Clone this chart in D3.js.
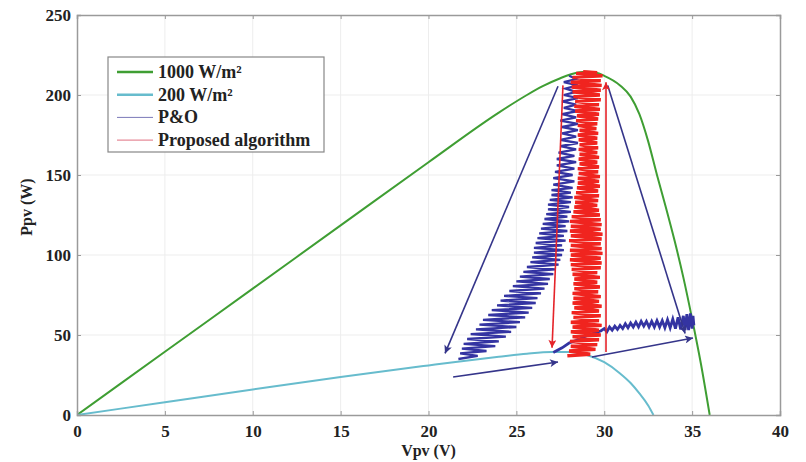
<!DOCTYPE html>
<html>
<head>
<meta charset="utf-8">
<script src="https://cdn.jsdelivr.net/npm/d3@7"></script>
<style>
  body { margin: 0; background: #fff; }
  text { font-family: "Liberation Serif", "Times New Roman", serif; font-weight: bold; }
</style>
</head>
<body>
<div id="chart"></div>
<script>
// PV curves [Vpv, Ppv]
const curve1000 = [[0,0],[5,39.5],[10,79],[15,118.5],[20,158],[24,189],[25.6,200],[26.5,205.5],[27.5,210.5],[28.5,214],[29,214.5],[29.5,214],[30,212],[30.9,206],[31.5,199],[32,188],[32.5,171],[33,150],[33.5,130],[34,109],[34.5,86],[35,60],[35.5,32],[36,0]]
const curve200 = [[0,0],[5,8],[10,16],[15,23.8],[20,31],[22,33.8],[24,36.4],[25.6,38.3],[27,39.3],[28,39.3],[29,37.5],[30,33],[30.9,26],[31.5,20],[32,13.5],[32.5,6],[32.8,0]]

// P&O trace, left band (oscillating between edges while power changes)
const poLeft = [[21.7,35],[22.8,37],[21.8,38.5],[23.3,40],[21.9,41.5],[23.8,43],[22.0,44.5],[24.0,46],[22.2,47.5],[24.4,49],[22.4,50.5],[24.7,52],[22.7,53.5],[25.0,55],[22.9,56.5],[25.2,58],[23.1,59.5],[25.5,61],[23.4,62.5],[25.7,64],[23.6,65.5],[25.9,67],[23.9,68.5],[26.1,70],[24.1,71.5],[26.2,73],[24.3,74.5],[26.4,76],[24.6,77.5],[26.6,79],[24.8,80.5],[26.8,82],[25.0,83.5],[26.9,85],[25.2,86.5],[27.1,88],[25.4,89.5],[27.2,91],[25.6,92.5],[27.4,94],[25.8,95.5],[27.5,97],[25.9,98.5],[27.6,100],[26.0,101.5],[27.7,103],[26.0,104.5],[27.6,106],[26.1,107.5],[27.8,109],[26.2,110.5],[27.7,112],[26.3,113.5],[27.9,115],[26.4,116.5],[27.8,118],[26.5,119.5],[28.0,121],[26.6,122.5],[27.9,124],[26.7,125.5],[28.1,127],[26.8,128.5],[28.0,130],[26.8,131.5],[28.1,133],[26.9,134.5],[28.2,136],[27.0,137.5],[28.1,139],[27.0,140.5],[28.2,142],[27.1,144],[28.3,146],[27.1,148],[28.2,150],[27.2,152],[28.3,154],[27.3,156],[28.4,158],[27.3,160],[28.3,162],[27.4,164],[28.4,166],[27.5,168],[28.5,170],[27.5,172],[28.4,174],[27.6,176],[28.5,178],[27.6,180],[28.5,182],[27.5,184],[28.4,186],[27.6,188],[28.5,190],[27.7,192],[28.4,194],[27.6,196],[28.5,198],[27.7,200],[28.4,202],[27.8,204],[28.5,206],[27.7,208],[28.4,210],[28.0,212]]

// P&O trace, right branch along ~55 W
const poRight = [[27.1,39],[27.6,42],[28.0,45],[28.5,47],[29.0,49.5],[29.5,51.5],[29.8,52.5],[30.0,54],[30.15,52],[30.3,55],[30.45,53],[30.6,55.5],[30.75,53.5],[30.9,56],[31.05,54],[31.2,57],[31.35,54.5],[31.5,57.5],[31.65,55],[31.8,58],[31.95,55],[32.1,58.5],[32.25,55.5],[32.4,58.5],[32.55,55],[32.7,58.5],[32.85,55],[33.0,59],[33.15,55],[33.3,59],[33.45,54.5],[33.6,59.5],[33.75,54.5],[33.9,60],[34.05,54],[34.2,61],[34.35,53.5],[34.5,62],[34.6,53],[34.7,63],[34.8,53],[34.9,63.5],[35.0,54],[35.05,62],[35.1,56]]

// proposed algorithm trace
const proposed = [[27.9,37],[29.2,38],[28.0,40],[29.5,41],[28.1,43],[29.6,44],[28.05,46],[29.7,47],[28.2,49],[29.8,50],[28.1,52],[29.7,53],[28.2,55],[29.85,56],[28.1,58],[29.7,59],[28.25,61],[29.8,62],[28.15,64],[29.7,65],[28.3,67],[29.85,68],[28.2,70],[29.7,71],[28.25,73],[29.8,74],[28.2,76],[29.65,77],[28.3,79],[29.75,80],[28.25,82],[29.6,83],[28.3,85],[29.75,86],[28.2,88],[29.6,89],[28.15,91],[29.8,92],[28.1,94],[29.85,95],[28.05,97],[29.8,98],[28.1,100],[29.9,101],[28.05,103],[29.85,104],[28.1,106],[29.8,107],[28.0,109],[29.85,110],[28.1,112],[29.9,113],[28.05,115],[29.8,116],[28.1,118],[29.85,119],[28.05,121],[29.8,122],[28.15,124],[29.75,125],[28.25,127],[29.7,128],[28.3,130],[29.6,131],[28.35,133],[29.65,134],[28.3,136],[29.7,137],[28.4,139],[29.65,140],[28.45,142],[29.75,143],[28.5,145],[29.7,146],[28.5,148],[29.75,149],[28.55,151],[29.65,152],[28.5,154],[29.7,155],[28.6,157],[29.6,158],[28.55,160],[29.7,161],[28.6,163],[29.6,164],[28.55,166],[29.65,167],[28.6,169],[29.6,170],[28.55,172],[29.6,173],[28.5,175],[29.65,176],[28.6,178],[29.55,179],[28.5,181],[29.6,182],[28.4,184],[29.65,185],[28.45,187],[29.7,188],[28.35,190],[29.75,191],[28.3,193],[29.7,194],[28.35,196],[29.8,197],[28.25,199],[29.75,200],[28.2,202],[29.8,203],[28.15,205],[29.85,206],[28.1,208],[29.8,209],[28.2,211],[29.9,212],[28.4,213.5],[29.6,214],[28.8,214.5]]

// arrows [[V1,P1],[V2,P2]]
const blueArrows = [
  [[27.37,205.5],[20.94,38.5]],
  [[21.4,23.8],[27.37,33.1]],
  [[29.3,36.2],[35.05,48.1]],
  [[30.2,206],[34.6,51]]
]
const redArrows = [
  [[27.65,206],[27.03,42]],
  [[30.1,39.4],[30.1,208]]
]

const xTicks = [0,5,10,15,20,25,30,35,40]
const yTicks = [0,50,100,150,200,250]
const legendLabels = ["1000 W/m²", "200 W/m²", "P&O", "Proposed algorithm"]

const width = 806, height = 462
const margin = { left: 77, right: 26, top: 15, bottom: 47 }

const svg = d3.select("#chart").append("svg")
  .attr("width", width)
  .attr("height", height)

const x = d3.scaleLinear().domain([0, 40]).range([margin.left, width - margin.right])
const y = d3.scaleLinear().domain([0, 250]).range([height - margin.bottom, margin.top])

const defs = svg.append("defs")
function arrowMarker(id, color) {
  defs.append("marker")
    .attr("id", id)
    .attr("viewBox", "0 0 10 10")
    .attr("refX", 10).attr("refY", 5)
    .attr("markerWidth", 11).attr("markerHeight", 8)
    .attr("markerUnits", "userSpaceOnUse")
    .attr("orient", "auto")
    .append("path")
    .attr("d", "M0,0 L10,5 L0,10 L2.5,5 Z")
    .attr("fill", color)
}
arrowMarker("headBlue", "#35358a")
arrowMarker("headRed", "#e5242a")

svg.append("clipPath").attr("id", "plotClip")
  .append("rect")
  .attr("x", x(0)).attr("y", y(250))
  .attr("width", x(40) - x(0)).attr("height", y(0) - y(250))

// faint grid
const grid = svg.append("g").attr("stroke", "#ededed").attr("stroke-width", 1)
xTicks.slice(1, -1).forEach(t => {
  grid.append("line").attr("x1", x(t)).attr("x2", x(t)).attr("y1", y(0)).attr("y2", y(250))
})
yTicks.slice(1, -1).forEach(t => {
  grid.append("line").attr("x1", x(0)).attr("x2", x(40)).attr("y1", y(t)).attr("y2", y(t))
})

const line = d3.line().x(d => x(d[0])).y(d => y(d[1]))
const smooth = d3.line().x(d => x(d[0])).y(d => y(d[1])).curve(d3.curveMonotoneX)
const plot = svg.append("g").attr("clip-path", "url(#plotClip)")

plot.append("path").attr("d", smooth(curve1000))
  .attr("fill", "none").attr("stroke", "#3f9e33").attr("stroke-width", 2)
plot.append("path").attr("d", smooth(curve200))
  .attr("fill", "none").attr("stroke", "#67bccd").attr("stroke-width", 2)

plot.append("path").attr("d", line(poLeft))
  .attr("fill", "none").attr("stroke", "#3434a2").attr("stroke-width", 2.3)
plot.append("path").attr("d", line(poRight))
  .attr("fill", "none").attr("stroke", "#3434a2").attr("stroke-width", 2.8)
plot.append("path").attr("d", line(proposed))
  .attr("fill", "none").attr("stroke", "#f0241f").attr("stroke-width", 3.4)

blueArrows.forEach(a => {
  plot.append("line")
    .attr("x1", x(a[0][0])).attr("y1", y(a[0][1]))
    .attr("x2", x(a[1][0])).attr("y2", y(a[1][1]))
    .attr("stroke", "#35358a").attr("stroke-width", 1.6)
    .attr("marker-end", "url(#headBlue)")
})
redArrows.forEach(a => {
  plot.append("line")
    .attr("x1", x(a[0][0])).attr("y1", y(a[0][1]))
    .attr("x2", x(a[1][0])).attr("y2", y(a[1][1]))
    .attr("stroke", "#e5242a").attr("stroke-width", 1.6)
    .attr("marker-end", "url(#headRed)")
})

// axes, ticks pointing inward, box all round
const axisColor = "#9a9a9a"
svg.append("g").attr("transform", `translate(0,${y(0)})`)
  .call(d3.axisBottom(x).tickValues(xTicks).tickSize(-4).tickPadding(10))
svg.append("g").attr("transform", `translate(${x(0)},0)`)
  .call(d3.axisLeft(y).tickValues(yTicks).tickSize(-4).tickPadding(6))
svg.append("g").attr("transform", `translate(0,${y(250)})`)
  .call(d3.axisTop(x).tickValues(xTicks).tickSize(-4).tickFormat(""))
svg.append("g").attr("transform", `translate(${x(40)},0)`)
  .call(d3.axisRight(y).tickValues(yTicks).tickSize(-4).tickFormat(""))

svg.selectAll(".domain").attr("stroke", axisColor).attr("stroke-width", 1.5)
svg.selectAll(".tick line").attr("stroke", axisColor)
svg.selectAll(".tick text")
  .attr("fill", "#222")
  .style("font-size", "17px")
  .style("font-family", "'Liberation Serif', 'Times New Roman', serif")
  .style("font-weight", "bold")

svg.append("text")
  .attr("x", (x(0) + x(40)) / 2).attr("y", 456)
  .attr("text-anchor", "middle")
  .attr("fill", "#222").style("font-size", "16px")
  .text("Vpv (V)")
svg.append("text")
  .attr("transform", `translate(32,${(y(0) + y(250)) / 2 - 8}) rotate(-90)`)
  .attr("text-anchor", "middle")
  .attr("fill", "#222").style("font-size", "16px")
  .text("Ppv (W)")

// legend
const legendColors = ["#3f9e33", "#67bccd", "#7a78b8", "#e07080"]
const legendWidths = [2.5, 2.5, 1, 1]
const legend = svg.append("g")
legend.append("rect")
  .attr("x", 108).attr("y", 57).attr("width", 216).attr("height", 95)
  .attr("fill", "#fff").attr("stroke", "#888").attr("stroke-width", 1.2)
legendLabels.forEach((label, i) => {
  const ly = 72 + i * 22.7
  legend.append("line")
    .attr("x1", 117).attr("x2", 153).attr("y1", ly).attr("y2", ly)
    .attr("stroke", legendColors[i]).attr("stroke-width", legendWidths[i])
  legend.append("text")
    .attr("x", 158).attr("y", ly + 6)
    .attr("fill", "#222").style("font-size", "18px")
    .text(label)
})
</script>
</body>
</html>
